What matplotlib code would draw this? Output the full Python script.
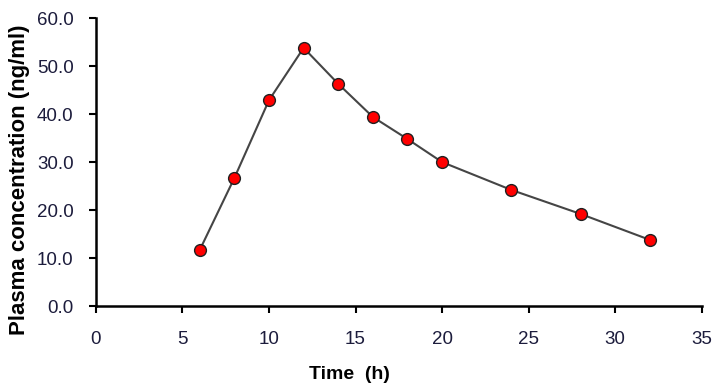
import matplotlib
matplotlib.use("Agg")
import matplotlib.pyplot as plt

time_h = [6, 8, 10, 12, 14, 16, 18, 20, 24, 28, 32]
conc = [11.7, 26.7, 42.9, 53.8, 46.3, 39.4, 34.8, 30.0, 24.2, 19.2, 13.8]
x_ticks = [0, 5, 10, 15, 20, 25, 30, 35]
y_ticks = [0.0, 10.0, 20.0, 30.0, 40.0, 50.0, 60.0]

plt.rcParams['font.family'] = ['Liberation Sans', 'DejaVu Sans']
fig = plt.figure(figsize=(7.16, 3.85), dpi=100)
ax = fig.add_axes([0.134, 0.205, 0.846, 0.748])

ax.plot(time_h, conc, color='#454545', lw=1.5, marker='o', markersize=8.5,
        markerfacecolor='#ff0000', markeredgecolor='#202020', markeredgewidth=1.0, zorder=3)

ax.set_xlim(0, 35)
ax.set_ylim(0, 60)
ax.set_xticks(x_ticks)
ax.set_yticks(y_ticks)
ax.set_xticklabels([str(t) for t in x_ticks])
ax.set_yticklabels([f"{v:.1f}" for v in y_ticks])
ax.tick_params(axis='both', direction='out', length=5, width=1.5, colors='black',
               labelsize=13.5, labelcolor='#1c1c3c')
ax.tick_params(axis='x', pad=13)
ax.tick_params(axis='y', pad=11)

for s in ['top', 'right']:
    ax.spines[s].set_visible(False)
for s in ['left', 'bottom']:
    ax.spines[s].set_linewidth(1.8)

ax.set_xlabel('Time  (h)', fontsize=14, fontweight='bold')
ax.set_ylabel('Plasma concentration (ng/ml)', fontsize=16, fontweight='bold')
ax.xaxis.set_label_coords(0.419, -0.208)
ax.yaxis.set_label_coords(-0.109, 0.44)

fig.savefig('out.png', dpi=100)
